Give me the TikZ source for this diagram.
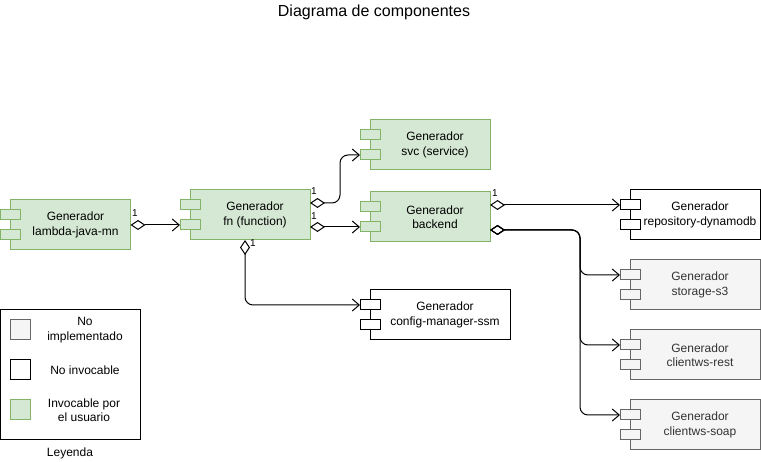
\documentclass[tikz,border=0pt]{standalone}
\usepackage{fontspec}
\setmainfont{Liberation Sans}
\usetikzlibrary{arrows.meta,calc}
\definecolor{gfill}{HTML}{D5E8D4}
\definecolor{gline}{HTML}{82B366}
\definecolor{nfill}{HTML}{F5F5F5}
\definecolor{nline}{HTML}{666666}
\definecolor{ntext}{HTML}{333333}
\newcommand\mkcomp[7]{%
  \node[body,#5,minimum width=#4pt] (#1) at (#2+10,#3) {};
  \node[port,#5] (#1-p1) at (#2,#3+10) {};
  \node[port,#5] (#1-p2) at (#2,#3+30) {};
  \node[lbl,text=#7] (#1-t) at ([xshift=5pt]#1.center) {#6};
}
\begin{document}
\begin{tikzpicture}[x=1pt,y=-1pt,
  green/.style={draw=gline,fill=gfill},
  grey/.style={draw=nline,fill=nfill},
  plain/.style={draw=black,fill=white},
  body/.style={minimum height=50pt,inner sep=0pt,outer sep=0pt,anchor=north west,line width=1pt},
  port/.style={minimum width=20pt,minimum height=10pt,inner sep=0pt,outer sep=0pt,anchor=north west,line width=1pt},
  lbl/.style={font=\fontsize{12}{14.4}\selectfont,align=center,inner sep=0pt},
  one/.style={font=\fontsize{10}{12}\selectfont,inner sep=0pt},
  conn/.style={line width=1pt,{Diamond[open,length=15pt,width=10pt]}-{Straight Barb[length=7pt,width=12pt]},rounded corners=8pt},
  legbox/.style={draw=black,line width=1pt,fill=white,minimum width=140pt,minimum height=130pt,anchor=north west,inner sep=0pt,outer sep=0pt},
  sq/.style={minimum width=20pt,minimum height=20pt,anchor=north west,inner sep=0pt,outer sep=0pt,line width=1pt},
]
\fill[white] (0,0) rectangle (761,462);
\useasboundingbox (0,0) rectangle (761,462);

\node[font=\fontsize{16}{19}\selectfont,inner sep=0pt] (title) at (374,12) {Diagrama de componentes};

\mkcomp{lam}{0.5}{200}{120}{green}{Generador\\lambda-java-mn}{black}
\mkcomp{fn}{180}{190}{120}{green}{Generador\\fn (function)}{black}
\mkcomp{svc}{360}{120}{120}{green}{Generador\\svc (service)}{black}
\mkcomp{back}{360}{192}{120}{green}{Generador\\backend}{black}
\mkcomp{repo}{620}{190}{130}{plain}{Generador\\repository-dynamodb}{black}
\mkcomp{s3}{620}{260}{130}{grey}{Generador\\storage-s3}{ntext}
\mkcomp{rest}{620}{330}{130}{grey}{Generador\\clientws-rest}{ntext}
\mkcomp{soap}{620}{400}{130}{grey}{Generador\\clientws-soap}{ntext}
\mkcomp{cfg}{360}{290}{140}{plain}{Generador\\config-manager-ssm}{black}

\draw[conn] (lam.east) -- (fn-p2.west);
\draw[conn] ([yshift=-13pt]fn.north east) -| ([xshift=-20pt]svc-p2.west) -- (svc-p2.west);
\draw[conn] ([yshift=-37pt]fn.north east) -- (back-p2.west);
\draw[conn] ([xshift=-5pt]fn.south) |- (cfg-p1.west);
\draw[conn] ([yshift=-13pt]back.north east) -- (repo-p1.west);
\draw[conn] ([yshift=-38pt]back.north east) -| ([xshift=-40pt]s3-p1.west) -- (s3-p1.west);
\draw[conn] ([yshift=-38pt]back.north east) -| ([xshift=-40pt]rest-p1.west) -- (rest-p1.west);
\draw[conn] ([yshift=-38pt]back.north east) -| ([xshift=-40pt]soap-p1.west) -- (soap-p1.west);

\node[one] (o1) at (135,213) {1};
\node[one] (o2) at (314,191) {1};
\node[one] (o3) at (314,216) {1};
\node[one] (o4) at (253,243) {1};
\node[one] (o5) at (495,193) {1};

\node[legbox] (leg) at (0.5,310) {};
\node[sq,grey] (sq1) at (10,320) {};
\node[sq,plain] (sq2) at (10,360) {};
\node[sq,green] (sq3) at (10,400) {};
\node[lbl] (l1) at (85,330) {No\\implementado};
\node[lbl] (l2) at (85,370) {No invocable};
\node[lbl] (l3) at (84,410) {Invocable por\\el usuario};
\node[lbl] (leyenda) at (70,453) {Leyenda};
\end{tikzpicture}
\end{document}
